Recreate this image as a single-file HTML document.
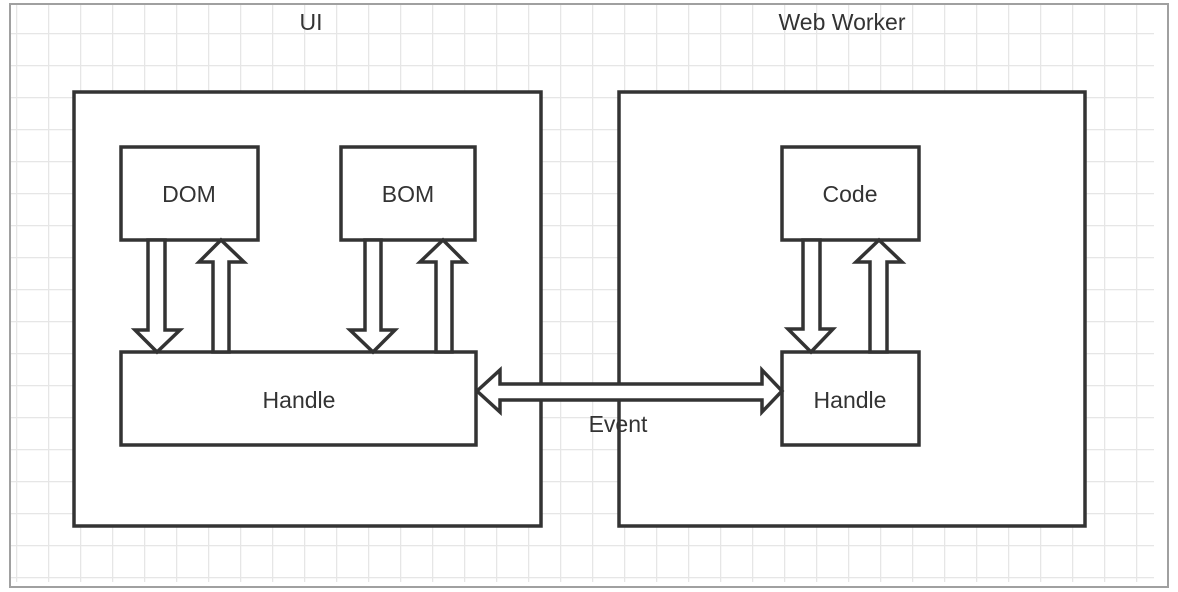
<!DOCTYPE html>
<html><head><style>
body{margin:0;background:#fff;width:1178px;height:592px;overflow:hidden}
svg{display:block}
text{font-family:"Liberation Sans",sans-serif;font-size:23px;fill:#333}
</style></head><body>
<svg width="1178" height="592" viewBox="0 0 1178 592">
<defs>
<pattern id="g" x="16" y="1" width="32" height="32" patternUnits="userSpaceOnUse">
<path d="M0 0V32M0 0H32" stroke="#e6e6e6" stroke-width="2.5" fill="none"/>
</pattern>
</defs>
<rect x="11" y="5" width="1143" height="577" fill="url(#g)"/>
<rect x="10" y="4" width="1158" height="583" fill="none" stroke="#a0a0a0" stroke-width="2"/>
<g stroke="#333" stroke-width="3.5" fill="#fff" stroke-linejoin="miter">
<rect x="74" y="92" width="467" height="434"/>
<rect x="619" y="92" width="466" height="434"/>
<rect x="121" y="147" width="137" height="93"/>
<rect x="341" y="147" width="134" height="93"/>
<rect x="121" y="352" width="355" height="93"/>
<rect x="782" y="147" width="137" height="93"/>
<rect x="782" y="352" width="137" height="93"/>
<polygon points="148,240 165,240 165,330 180,330 157,352 135,330 148,330"/>
<polygon points="365,240 381,240 381,330 395,330 373,352 350,330 365,330"/>
<polygon points="803,240 820,240 820,329 833,329 811,352 788,329 803,329"/>
<polygon points="213,352 229,352 229,262 244,262 221,240 199,262 213,262"/>
<polygon points="436,352 452,352 452,262 465,262 443,240 420,262 436,262"/>
<polygon points="870,352 887,352 887,262 902,262 879,240 856,262 870,262"/>
<polygon points="477,391 500,370 500,384 762,384 762,370 782,391 762,412 762,400 500,400 500,412"/>
</g>
<text x="311" y="30" text-anchor="middle">UI</text>
<text x="842" y="30" text-anchor="middle">Web Worker</text>
<text x="189" y="202" text-anchor="middle">DOM</text>
<text x="408" y="202" text-anchor="middle">BOM</text>
<text x="850" y="202" text-anchor="middle">Code</text>
<text x="299" y="408" text-anchor="middle">Handle</text>
<text x="850" y="408" text-anchor="middle">Handle</text>
<text x="618" y="432" text-anchor="middle">Event</text>
</svg>
</body></html>
